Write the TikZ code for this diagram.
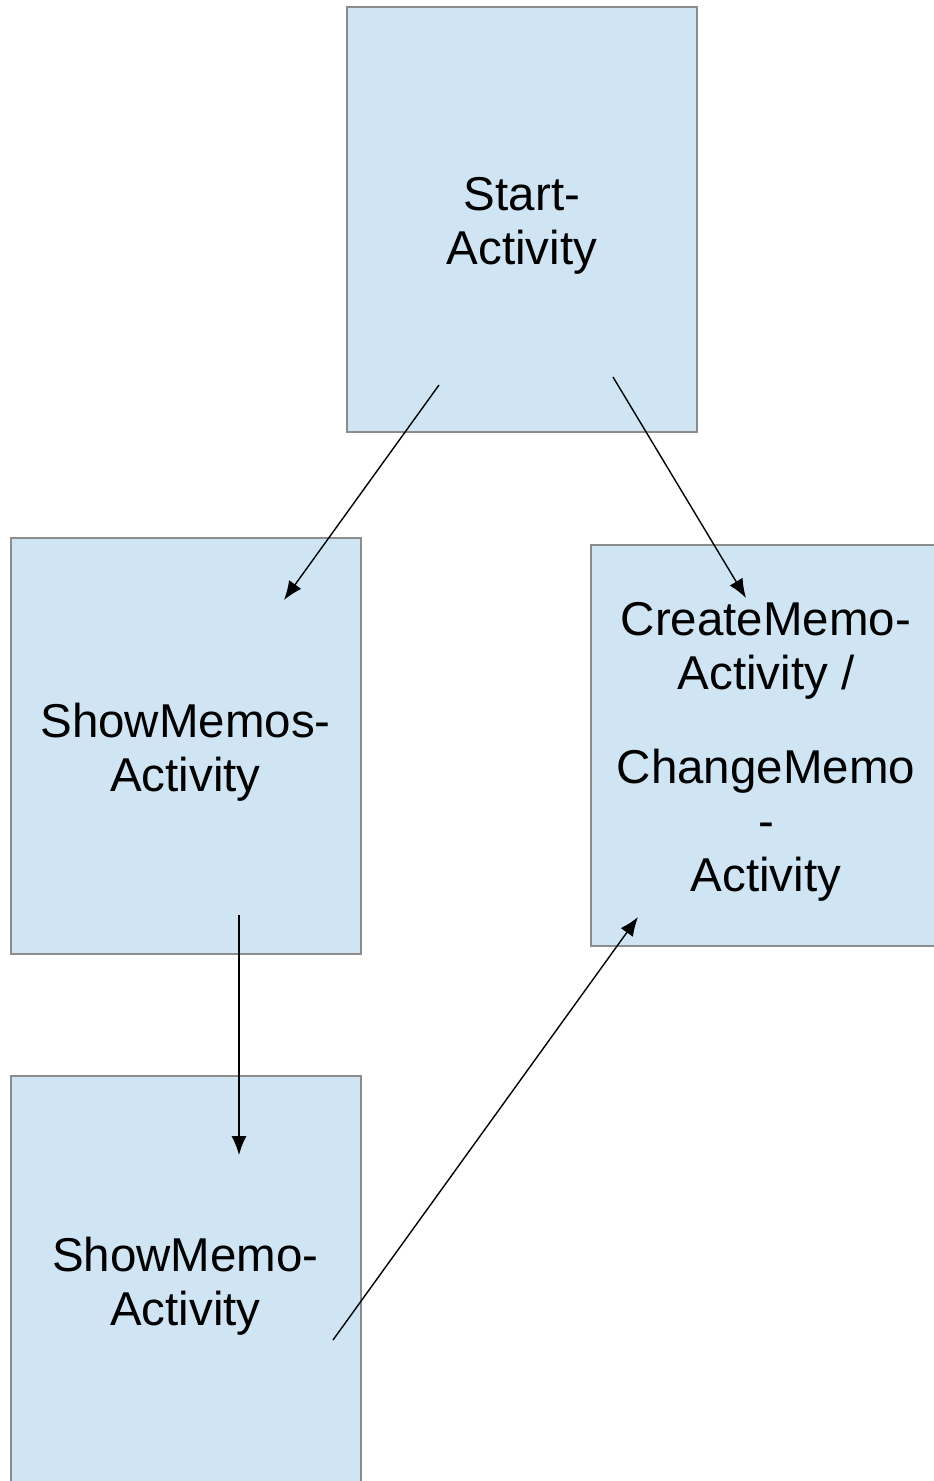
\documentclass[tikz,border=0pt]{standalone}
\usepackage{fontspec}
\setmainfont{Liberation Sans}
\usetikzlibrary{arrows.meta}
\definecolor{boxfill}{HTML}{CFE5F3}
\definecolor{boxline}{HTML}{8C8C8C}
\tikzset{x=1pt, y=-1pt,
  acttext/.style={align=center, inner sep=0pt, yshift=-6.5pt,
    font=\fontsize{47.5}{54}\selectfont},
  actbox/.style={draw=boxline, fill=boxfill, line width=2pt, minimum width=350pt,
    inner sep=0pt, label={[acttext]center:{#1}}},
  flow/.style={-{Latex[length=19pt,width=15pt]}, line width=1.4pt}}

\begin{document}
\begin{tikzpicture}
                \useasboundingbox (0,0) rectangle (934,1481);
                \node (start)      [actbox={Start-\\Activity}, minimum height=425pt] at (522,219.5) {};
                \node (showmemos)  [actbox={ShowMemos-\\Activity}, minimum height=416pt] at (185.5,746) {};
                \node (creatememo) [actbox={CreateMemo-\\Activity /\\[40pt]ChangeMemo\\-\\Activity}, minimum height=401pt] at (766,745.5) {};
                \node (showmemo)   [actbox={ShowMemo-\\Activity}, minimum height=408pt] at (185.5,1280) {};
                \coordinate (s1) at (439,385);
                \coordinate (e1) at (284,600);
                \coordinate (s2) at (613,377);
                \coordinate (e2) at (746,598);
                \coordinate (s3) at (239,915);
                \coordinate (e3) at (239,1155);
                \coordinate (s4) at (333,1340);
                \coordinate (e4) at (638,917);
                \draw[flow] (s1) to (e1);
                \draw[flow] (s2) to (e2);
                \draw[flow] (s3) to (e3);
                \draw[flow] (s4) to (e4);
              \end{tikzpicture}
\end{document}
